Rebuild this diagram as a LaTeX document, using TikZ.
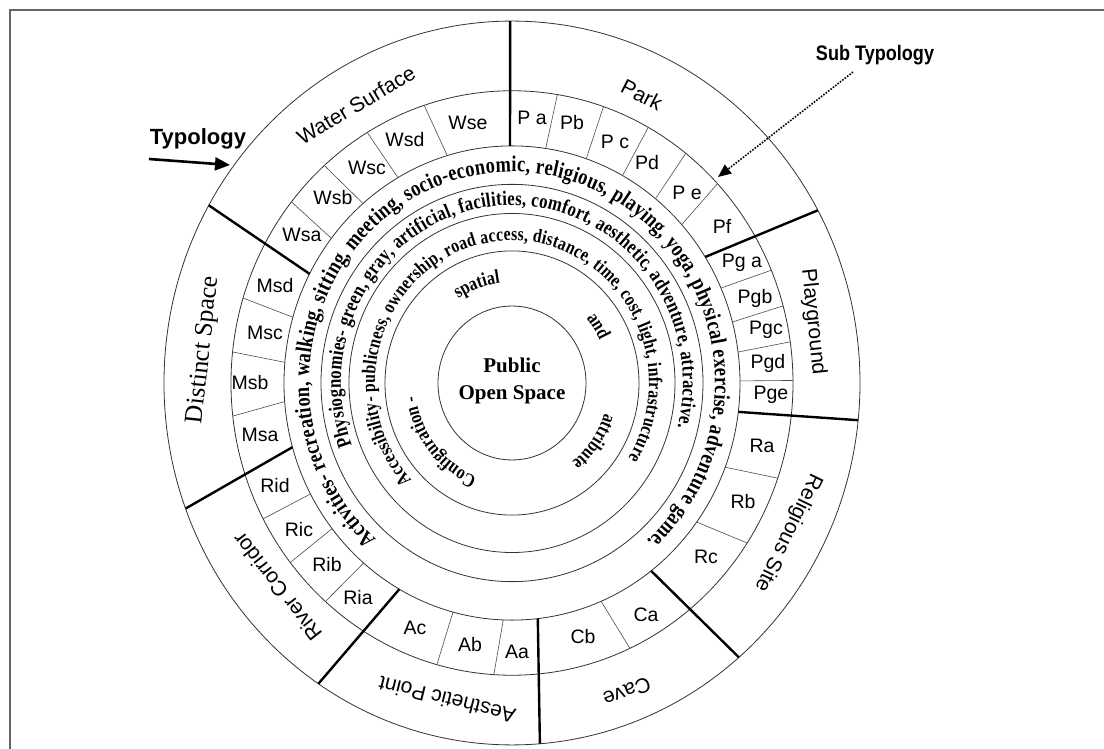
\documentclass[tikz,border=0pt]{standalone}
\usepackage{fontspec}
\setmainfont{Liberation Serif}
\newfontfamily\arialfont{Liberation Sans}
\newfontfamily\arialnarrow[FakeStretch=0.86]{Liberation Sans}
\newfontfamily\condserif[FakeStretch=0.82]{Liberation Serif}
\usetikzlibrary{arrows.meta,decorations.text}

\tikzset{
  ring/.style={draw=black!80, line width=0.8pt},
  typedge/.style={draw=black, line width=2.4pt},
  subedge/.style={draw=black!70, line width=0.6pt},
  sublabel/.style={font=\arialfont\fontsize{19.5}{19.5}\selectfont, inner sep=0pt},
  typlabel/.style={font=\arialfont\fontsize{21}{21}\selectfont, inner sep=0pt},
  ringtext/.style={decorate, decoration={text along path, text align=fit to path, text={#1}}},
  wordtext/.style={decorate, decoration={text along path, text align=center, text={#1}}},
}

\begin{document}
\begin{tikzpicture}[x=1pt,y=1pt]
\useasboundingbox (-512,-366) rectangle (592,383);
\fill[white] (-512,-366) rectangle (592,383);

% frame
\draw[black!60, line width=2pt] (-502,-380) -- (-502,373) -- (600,373);

\begin{scope}[yscale=1.04]
  % concentric rings
  \foreach \r in {74,127,163,191,228,281,348}
    \draw[ring] (0,0) circle[radius=\r];

  % typology sector borders
  \foreach \a/\b in {90.5/90.3, 32.1/28.5, -7/-5.9, -52.4/-49.3,
                     -83.5/-85.4, 240.4/236.2, 195.7/200.3, 152.6/150.6}
    \draw[typedge] (\a:228) -- (\b:348);

  % sub-typology cell borders
  \foreach \a/\b in {81.5/80.7, 71/71, 61/61, 51/51.8, 41.9/43,
                     23.6/22.7, 14.9/15.3, 7.5/8.1, 0.5/0.5,
                     -20.8/-19, -35.9/-33.2,
                     -67/-65.2,
                     -92.2/-93.7, -105/-105.5,
                     229.4/228.4, 217.9/217.9, 207.9/207.7,
                     184.5/186.5, 175/173.9, 163.9/163.1,
                     142.4/141.7, 130.8/131.9, 120/121, 106.5/108.2}
    \draw[subedge] (\a:228) -- (\b:281);

  % attribute rings
  \path[ringtext={|\condserif\bfseries\fontsize{22.5}{22.5}\selectfont|Activities- recreation, walking, sitting, meeting, socio-economic, religious, playing, yoga, physical exercise, adventure game.}]
    (228:203) arc[start angle=228, end angle=-48.5, radius=203];
  \path[ringtext={|\condserif\bfseries\fontsize{20.5}{20.5}\selectfont|Physiognomies- green, gray, artificial, facilities, comfort, aesthetic, adventure, attractive.}]
    (200.5:171) arc[start angle=200.5, end angle=-14.4, radius=171];
  \path[ringtext={|\condserif\bfseries\fontsize{19.3}{19.3}\selectfont|Accessibility- publicness, ownership, road access, distance, time, cost, light, infrastructure}]
    (223:137) arc[start angle=223, end angle=-32, radius=137];

  % configuration ring
  \path[wordtext={|\condserif\bfseries\fontsize{19.5}{19.5}\selectfont|spatial}]
    (150:97) arc[start angle=150, end angle=70, radius=97];
  \path[wordtext={|\condserif\bfseries\fontsize{19.5}{19.5}\selectfont|and}]
    (73:97) arc[start angle=73, end angle=-7, radius=97];
  \path[wordtext={|\condserif\bfseries\fontsize{19.5}{19.5}\selectfont|attribute}]
    (5:97) arc[start angle=5, end angle=-75, radius=97];
  \path[wordtext={|\condserif\bfseries\fontsize{19.5}{19.5}\selectfont|Configuration -}]
    (268.5:97) arc[start angle=268.5, end angle=168.5, radius=97];
\end{scope}

% centre
\node[font=\bfseries\fontsize{21}{27}\selectfont, align=center, inner sep=0pt] (core) at (0,2) {Public\\Open Space};

% typology names
\node[typlabel, rotate=31]   (t-water)  at (-156,278) {Water Surface};
\node[typlabel, rotate=-27]  (t-park)   at (130,288)  {Park};
\node[typlabel, rotate=-84]  (t-play)   at (301,61)   {Playground};
\node[typlabel, rotate=-116] (t-relig)  at (276,-150) {Religious Site};
\node[typlabel, rotate=201]  (t-cave)   at (115,-309) {Cave};
\node[typlabel, rotate=166]  (t-aesth)  at (-65,-317) {Aesthetic Point};
\node[typlabel, rotate=128]  (t-river)  at (-235,-204) {River Corridor};
\node[font=\fontsize{25.5}{25.5}\selectfont, inner sep=0pt, rotate=84] (t-dist) at (-308,33) {Distinct Space};

% sub-typology codes
\foreach \n/\x/\y/\t in {wse/-44/260/Wse, wsd/-107/243/Wsd, wsc/-145/215/Wsc, wsb/-179/185/Wsb, wsa/-210/148/Wsa,
    msd/-237/97/Msd, msc/-247/50/Msc, msb/-262/0/Msb, msa/-252/-52/Msa,
    rid/-237/-103/Rid, ric/-213/-147/Ric, rib/-185/-182/Rib, ria/-154/-215/Ria,
    ac/-97/-245/Ac, ab/-42/-262/Ab, aa/5/-269/Aa,
    cb/71/-254/Cb, ca/134/-232/Ca,
    rc/194/-174/Rc, rb/231/-119/Rb, ra/250/-63/Ra,
    pge/259/-12/Pge, pgd/256/20/Pgd, pgc/254/53/Pgc, pgb/243/85/Pgb, pga/230/120/Pg a,
    pf/210/157/Pf, pe/175/190/P e, pd/135/220/Pd, pc/103/241/P c, pb/60/260/Pb, pa/20/265/P a}
  \node[sublabel] (s-\n) at (\x,\y) {\t};

% callouts
\node[font=\arialfont\bfseries\fontsize{22}{22}\selectfont, inner sep=0pt] (typ) at (-314,244) {Typology};
\coordinate (typtail) at (-363,224);
\coordinate (typtip) at (-282,218);
\draw[line width=2.6pt, -{Triangle[length=15pt,width=13pt]}] (typtail) -- (typtip);

\node[font=\arialnarrow\bfseries\fontsize{21}{21}\selectfont, inner sep=0pt] (subtyp) at (363,328) {Sub Typology};
\coordinate (subtail) at (341,311);
\coordinate (subtip) at (206,206);
\draw[line width=1.6pt, dash pattern=on 1.6pt off 1.4pt, -{Triangle[length=13pt,width=11pt]}] (subtail) -- (subtip);
\end{tikzpicture}
\end{document}
